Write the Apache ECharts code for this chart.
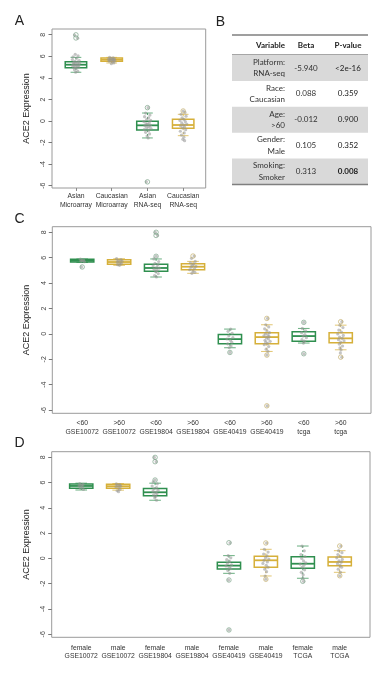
<!DOCTYPE html>
<html><head><meta charset="utf-8">
<script src="https://cdn.jsdelivr.net/npm/echarts@6/dist/echarts.min.js"></script>
<style>html,body{margin:0;padding:0;background:#fff}#c{width:391px;height:673px}</style>
</head><body><div id="c"></div>
<script>
// ================= DATA =================
const yTicks = [-6, -4, -2, 0, 2, 4, 6, 8];

// ---- Panel A ----
const catsA = ['Asian\nMicroarray', 'Caucasian\nMicroarray', 'Asian\nRNA-seq', 'Caucasian\nRNA-seq'];
const colorsA = [0, 1, 0, 1]; // 0 green, 1 yellow
// [lower whisker, Q1, median, Q3, upper whisker]
const boxesA = [
  [4.52, 4.94, 5.22, 5.50, 5.90],
  [5.38, 5.53, 5.68, 5.84, 5.90],
  [-1.57, -0.83, -0.40, -0.03, 0.74],
  [-1.36, -0.67, -0.37, 0.16, 0.62]
];
const outliersA = [[1, 7.99], [1, 7.70], [3, 1.24], [3, -5.64], [4, 0.93]];
const jitterA = [
  [[-0.04,7.97],[0.05,7.68],[-0.02,6.18],[0.06,6.05],[-0.08,5.95],[0.02,5.82],[-0.10,5.70],[0.09,5.60],[-0.03,5.52],[0.04,5.45],[-0.07,5.40],[0.10,5.35],[0.00,5.30],[-0.05,5.25],[0.07,5.20],[-0.10,5.15],[0.03,5.12],[-0.02,5.05],[0.08,5.00],[-0.06,4.95],[0.01,4.88],[-0.04,4.75],[0.05,4.62],[-0.01,4.52]],
  [[-0.06,5.90],[0.04,5.85],[-0.02,5.80],[0.08,5.76],[-0.09,5.72],[0.01,5.70],[0.05,5.66],[-0.04,5.62],[0.09,5.58],[-0.07,5.55],[0.03,5.50],[0.06,5.38],[-0.01,5.32]],
  [[0.02,1.24],[-0.05,0.74],[0.07,0.55],[-0.08,0.40],[0.03,0.30],[-0.02,0.15],[0.09,0.05],[-0.10,-0.05],[0.05,-0.15],[-0.04,-0.25],[0.00,-0.32],[0.08,-0.40],[-0.07,-0.45],[0.04,-0.55],[-0.02,-0.62],[0.10,-0.70],[-0.09,-0.80],[0.03,-0.90],[-0.05,-1.05],[0.06,-1.20],[-0.01,-1.40],[0.02,-1.57],[-0.03,-5.64]],
  [[0.00,0.93],[0.05,0.80],[-0.06,0.62],[0.08,0.45],[-0.03,0.30],[0.02,0.15],[-0.09,0.05],[0.06,-0.05],[-0.04,-0.18],[0.10,-0.28],[0.01,-0.36],[-0.07,-0.45],[0.04,-0.55],[-0.02,-0.65],[0.07,-0.80],[-0.08,-0.95],[0.03,-1.10],[-0.05,-1.30],[0.02,-1.50],[-0.01,-1.70],[0.04,-1.82]]
];

// ---- Panel B (table) ----
const tableHeader = ['Variable', 'Beta', 'P-value'];
const tableVars = ['Platform:\nRNA-seq', 'Race:\nCaucasian', 'Age:\n>60', 'Gender:\nMale', 'Smoking:\nSmoker'];
const tableBeta = ['-5.940', '0.088', '-0.012', '0.105', '0.313'];
const tablePval = ['<2e-16', '0.359', '0.900', '0.352', '0.008'];
const tablePvalBold = [false, false, false, false, true];

// ---- Panel C ----
const catsC = ['<60\nGSE10072', '>60\nGSE10072', '<60\nGSE19804', '>60\nGSE19804', '<60\nGSE40419', '>60\nGSE40419', '<60\ntcga', '>60\ntcga'];
const colorsC = [0, 1, 0, 1, 0, 1, 0, 1];
const boxesC = [
  [5.62, 5.66, 5.76, 5.87, 5.90],
  [5.40, 5.48, 5.66, 5.84, 5.92],
  [4.48, 4.93, 5.19, 5.48, 5.90],
  [4.77, 5.05, 5.29, 5.53, 5.71],
  [-1.09, -0.78, -0.41, -0.04, 0.38],
  [-1.38, -0.78, -0.25, 0.09, 0.72],
  [-0.72, -0.57, -0.17, 0.17, 0.43],
  [-1.25, -0.70, -0.35, 0.09, 0.69]
];
const outliersC = [[1,5.27],[3,6.11],[3,8.00],[3,7.75],[4,6.13],[5,-1.46],[6,1.22],[6,-1.67],[6,-5.66],[7,0.91],[7,-1.56],[8,0.96],[8,-1.83]];
const jitterC = [
  [[-0.05,5.88],[0.04,5.82],[0.00,5.78],[-0.03,5.72],[0.06,5.68],[-0.02,5.27]],
  [[-0.07,5.92],[0.05,5.85],[-0.02,5.78],[0.08,5.72],[-0.05,5.66],[0.02,5.60],[0.06,5.52],[-0.04,5.45],[0.01,5.40]],
  [[-0.02,8.00],[0.04,7.75],[0.00,6.11],[-0.06,5.90],[0.07,5.70],[-0.03,5.55],[0.05,5.45],[-0.08,5.35],[0.02,5.25],[0.09,5.18],[-0.05,5.10],[0.03,5.00],[-0.01,4.90],[0.06,4.75],[-0.04,4.60],[0.01,4.48]],
  [[0.03,6.13],[-0.04,5.95],[0.06,5.71],[-0.07,5.60],[0.02,5.50],[-0.02,5.40],[0.08,5.32],[-0.05,5.25],[0.04,5.15],[-0.09,5.05],[0.00,4.95],[0.05,4.85],[-0.03,4.77]],
  [[0.02,0.38],[-0.05,0.20],[0.06,0.05],[-0.03,-0.15],[0.08,-0.30],[-0.08,-0.40],[0.01,-0.50],[0.05,-0.65],[-0.06,-0.78],[0.03,-0.95],[-0.02,-1.09],[0.00,-1.46]],
  [[0.02,1.22],[-0.03,0.72],[0.05,0.55],[-0.06,0.40],[0.00,0.25],[0.07,0.10],[-0.04,0.00],[0.03,-0.08],[-0.08,-0.15],[0.06,-0.22],[-0.01,-0.30],[0.04,-0.40],[-0.05,-0.50],[0.09,-0.58],[-0.03,-0.65],[0.02,-0.75],[-0.07,-0.85],[0.05,-1.00],[-0.02,-1.20],[0.03,-1.38],[0.00,-1.67],[0.01,-5.66]],
  [[0.00,0.91],[-0.04,0.43],[0.05,0.25],[-0.06,0.10],[0.03,-0.05],[-0.02,-0.17],[0.07,-0.30],[-0.05,-0.45],[0.02,-0.57],[-0.01,-0.72],[0.00,-1.56]],
  [[0.03,0.96],[-0.02,0.69],[0.06,0.50],[-0.05,0.30],[0.02,0.15],[-0.08,0.00],[0.07,-0.12],[-0.03,-0.25],[0.04,-0.35],[-0.06,-0.45],[0.09,-0.55],[0.00,-0.65],[-0.04,-0.80],[0.05,-0.95],[-0.02,-1.10],[0.01,-1.25],[-0.01,-1.50],[0.03,-1.83]]
];

// ---- Panel D ----
const catsD = ['female\nGSE10072', 'male\nGSE10072', 'female\nGSE19804', 'male\nGSE19804', 'female\nGSE40419', 'male\nGSE40419', 'female\nTCGA', 'male\nTCGA'];
const colorsD = [0, 1, 0, 1, 0, 1, 0, 1];
const boxesD = [
  [5.41, 5.55, 5.73, 5.89, 5.95],
  [5.40, 5.55, 5.71, 5.86, 5.92],
  [4.60, 4.96, 5.23, 5.52, 5.95],
  null,
  [-1.18, -0.84, -0.57, -0.31, 0.22],
  [-1.39, -0.70, -0.15, 0.17, 0.72],
  [-1.57, -0.78, -0.42, 0.14, 0.98],
  [-1.10, -0.58, -0.28, 0.11, 0.61]
];
const outliersD = [[3,7.99],[3,7.65],[3,6.20],[5,1.24],[5,-1.71],[5,-5.66],[6,1.22],[6,-1.65],[7,-1.81],[8,0.98],[8,-1.37]];
const jitterD = [
  [[-0.04,5.92],[0.05,5.85],[0.00,5.78],[-0.06,5.72],[0.03,5.65],[-0.02,5.55],[0.06,5.45]],
  [[-0.05,5.90],[0.04,5.84],[-0.01,5.78],[0.07,5.72],[-0.06,5.66],[0.02,5.58],[0.05,5.45],[-0.03,5.35],[0.01,5.28]],
  [[-0.02,7.99],[0.03,7.65],[0.00,6.20],[-0.05,6.05],[0.06,5.90],[-0.08,5.72],[0.04,5.60],[-0.03,5.50],[0.08,5.40],[-0.06,5.30],[0.01,5.22],[0.05,5.12],[-0.04,5.02],[0.02,4.92],[-0.01,4.80],[0.04,4.60]],
  [],
  [[0.03,1.24],[-0.02,0.22],[0.05,0.05],[-0.06,-0.10],[0.02,-0.25],[-0.04,-0.40],[0.07,-0.50],[-0.08,-0.60],[0.01,-0.70],[0.05,-0.82],[-0.03,-0.95],[0.02,-1.18],[-0.01,-1.71],[0.00,-5.66]],
  [[0.02,1.22],[-0.04,0.72],[0.06,0.50],[-0.06,0.35],[0.03,0.20],[-0.01,0.05],[0.08,-0.05],[-0.05,-0.15],[0.04,-0.28],[-0.08,-0.40],[0.01,-0.55],[0.06,-0.70],[-0.03,-0.85],[0.02,-1.05],[-0.02,-1.39],[0.00,-1.65]],
  [[-0.02,0.98],[0.04,0.60],[-0.05,0.30],[0.06,0.15],[-0.03,0.00],[0.02,-0.20],[0.08,-0.35],[-0.07,-0.45],[0.03,-0.55],[-0.02,-0.70],[0.05,-0.90],[-0.04,-1.10],[0.01,-1.30],[0.00,-1.57],[0.02,-1.81]],
  [[0.03,0.98],[-0.03,0.61],[0.06,0.45],[-0.05,0.30],[0.02,0.15],[-0.08,0.05],[0.07,-0.08],[-0.02,-0.20],[0.04,-0.30],[-0.06,-0.42],[0.01,-0.55],[0.05,-0.70],[-0.04,-0.85],[0.02,-1.10],[0.00,-1.37]]
];

// ================= STYLE / LAYOUT =================
const PALETTE = ['#2f8f4f', '#d6b03a'];
const OUTLINE = ['#7fa58c', '#c4b06e'];
const FONT = 'Liberation Sans, Arial, sans-serif';
const TFONT = 'Lato, Noto Sans, sans-serif';

const panels = [
  { cats: catsA, colors: colorsA, boxes: boxesA, outliers: outliersA, jitter: jitterA,
    grid: {left: 52, top: 29, width: 153.7, height: 159}, xmin: 0.33, xmax: 4.63, ymin: -6.21, ymax: 8.53,
    boxW: 0.6, xTick: true, xMargin: 4 },
  { cats: catsC, colors: colorsC, boxes: boxesC, outliers: outliersC, jitter: jitterC,
    grid: {left: 52.3, top: 226.7, width: 318.7, height: 186.6}, xmin: 0.19, xmax: 8.82, ymin: -6.25, ymax: 8.44,
    boxW: 0.63, xTick: false, xMargin: 6 },
  { cats: catsD, colors: colorsD, boxes: boxesD, outliers: outliersD, jitter: jitterD,
    grid: {left: 51.7, top: 451.7, width: 318.3, height: 185.6}, xmin: 0.2, xmax: 8.82, ymin: -6.24, ymax: 8.44,
    boxW: 0.63, xTick: false, xMargin: 6.5 }
];

function renderBox(params, api) {
  const x = api.value(0), lo = api.value(1), q1 = api.value(2), md = api.value(3), q3 = api.value(4), hi = api.value(5);
  const w = api.value(6);
  const col = PALETTE[api.value(7)];
  const tl = api.coord([x - w / 2, q3]);
  const br = api.coord([x + w / 2, q1]);
  const cx = api.coord([x, md]);
  const yMd = cx[1];
  const yLo = api.coord([x, lo])[1];
  const yHi = api.coord([x, hi])[1];
  const sL = api.coord([x - w / 4, md])[0], sR = api.coord([x + w / 4, md])[0];
  return {
    type: 'group',
    children: [
      {type: 'line', shape: {x1: cx[0], y1: yHi, x2: cx[0], y2: tl[1]}, style: {stroke: col, lineWidth: 0.8, lineDash: [2, 2]}},
      {type: 'line', shape: {x1: cx[0], y1: br[1], x2: cx[0], y2: yLo}, style: {stroke: col, lineWidth: 0.8, lineDash: [2, 2]}},
      {type: 'line', shape: {x1: sL, y1: yHi, x2: sR, y2: yHi}, style: {stroke: col, lineWidth: 0.9, opacity: 0.8}},
      {type: 'line', shape: {x1: sL, y1: yLo, x2: sR, y2: yLo}, style: {stroke: col, lineWidth: 0.9, opacity: 0.8}},
      {type: 'rect', shape: {x: tl[0], y: tl[1], width: br[0] - tl[0], height: br[1] - tl[1]}, style: {fill: '#ffffff', stroke: col, lineWidth: 1.5}},
      {type: 'line', shape: {x1: tl[0], y1: yMd, x2: br[0], y2: yMd}, style: {stroke: col, lineWidth: 1.8}}
    ]
  };
}

const grids = [], xAxes = [], yAxes = [], series = [];
panels.forEach((p, k) => {
  grids.push(Object.assign({show: true, borderColor: '#9a9a9a', borderWidth: 1, backgroundColor: 'transparent'}, p.grid));
  const catPos = p.cats.map((_, i) => i + 1);
  xAxes.push({
    gridIndex: k, type: 'value', min: p.xmin, max: p.xmax, position: 'bottom',
    axisLine: {show: false, onZero: false}, splitLine: {show: false},
    axisTick: {show: p.xTick, customValues: catPos, length: 3, lineStyle: {color: '#888'}},
    axisLabel: {customValues: catPos, formatter: v => p.cats[Math.round(v) - 1], fontSize: 6.8, lineHeight: 8.5,
      margin: p.xMargin, color: '#333', fontFamily: FONT}
  });
  yAxes.push({
    gridIndex: k, type: 'value', min: p.ymin, max: p.ymax, position: 'left',
    axisLine: {show: false, onZero: false}, splitLine: {show: false},
    axisTick: {show: true, customValues: yTicks, length: 3.5, lineStyle: {color: '#777'}},
    axisLabel: {customValues: yTicks, rotate: 90, fontSize: 7, margin: 5, color: '#444', fontFamily: FONT},
    name: 'ACE2 Expression', nameLocation: 'middle', nameRotate: 90, nameGap: 21,
    nameTextStyle: {fontSize: 9, color: '#222', fontFamily: FONT}
  });
  const boxData = [];
  p.boxes.forEach((b, i) => { if (b) boxData.push([i + 1, ...b, p.boxW, p.colors[i]]); });
  series.push({
    type: 'custom', xAxisIndex: k, yAxisIndex: k, renderItem: renderBox, data: boxData,
    encode: {x: 0, y: [1, 2, 3, 4, 5]}, silent: true, z: 2
  });
  const jData = [];
  p.jitter.forEach((arr, i) => arr.forEach(([dx, v]) => jData.push([i + 1 + dx, v])));
  series.push({
    type: 'scatter', xAxisIndex: k, yAxisIndex: k, data: jData, symbol: 'circle', symbolSize: 3.2,
    itemStyle: {color: 'rgba(150,150,150,0.7)'}, silent: true, z: 3
  });
  series.push({
    type: 'scatter', xAxisIndex: k, yAxisIndex: k, symbol: 'circle', symbolSize: 4.5,
    data: p.outliers.map(([c, v]) => ({value: [c, v], itemStyle: {borderColor: OUTLINE[p.colors[c - 1]]}})),
    itemStyle: {color: 'rgba(255,255,255,0)', borderWidth: 0.9}, silent: true, z: 4
  });
});

// ---- Table graphic (panel B) ----
const T = {left: 232, right: 368, top: 35, headY: 45, headLine: 54.5, rowTop: 55, rowH: 25.9, varX: 285, betaX: 306, pX: 348};
const FS = '8px ';
const g = [];
tableVars.forEach((_, i) => {
  if (i % 2 === 0) g.push({type: 'rect', shape: {x: T.left, y: T.rowTop + i * T.rowH, width: T.right - T.left, height: T.rowH}, style: {fill: '#d9d9d9'}});
});
const bottomY = T.rowTop + tableVars.length * T.rowH;
g.push({type: 'line', shape: {x1: T.left, y1: T.top, x2: T.right, y2: T.top}, style: {stroke: '#7f7f7f', lineWidth: 1.5}});
g.push({type: 'line', shape: {x1: T.left, y1: T.headLine, x2: T.right, y2: T.headLine}, style: {stroke: '#a6a6a6', lineWidth: 1}});
g.push({type: 'line', shape: {x1: T.left, y1: bottomY, x2: T.right, y2: bottomY}, style: {stroke: '#7f7f7f', lineWidth: 1.5}});
const headX = [T.varX, T.betaX, T.pX], headAlign = ['right', 'center', 'center'];
tableHeader.forEach((h, j) => g.push({type: 'text', x: headX[j], y: T.headY, style: {text: h, align: headAlign[j], verticalAlign: 'middle', font: 'bold ' + FS + TFONT, fill: '#222'}}));
tableVars.forEach((v, i) => {
  const cy = T.rowTop + (i + 0.5) * T.rowH;
  g.push({type: 'text', x: T.varX, y: cy, style: {text: v, align: 'right', verticalAlign: 'middle', lineHeight: 11.5, font: FS + TFONT, fill: '#333'}});
  g.push({type: 'text', x: T.betaX, y: cy, style: {text: tableBeta[i], align: 'center', verticalAlign: 'middle', font: FS + TFONT, fill: '#333'}});
  g.push({type: 'text', x: T.pX, y: cy, style: {text: tablePval[i], align: 'center', verticalAlign: 'middle', font: (tablePvalBold[i] ? 'bold ' : '') + FS + TFONT, fill: '#222'}});
});
// panel letters
[['A', 19.5, 21], ['B', 220.5, 22.5], ['C', 19.5, 219.5], ['D', 19.5, 443]].forEach(([t, x, y]) =>
  g.push({type: 'text', x: x, y: y, style: {text: t, align: 'center', verticalAlign: 'middle', font: '14px ' + FONT, fill: '#222'}}));

const chart = echarts.init(document.getElementById('c'), null, {renderer: 'canvas'});
chart.setOption({
  animation: false,
  backgroundColor: '#ffffff',
  grid: grids, xAxis: xAxes, yAxis: yAxes, series: series,
  graphic: g
});
</script>
</body></html>
